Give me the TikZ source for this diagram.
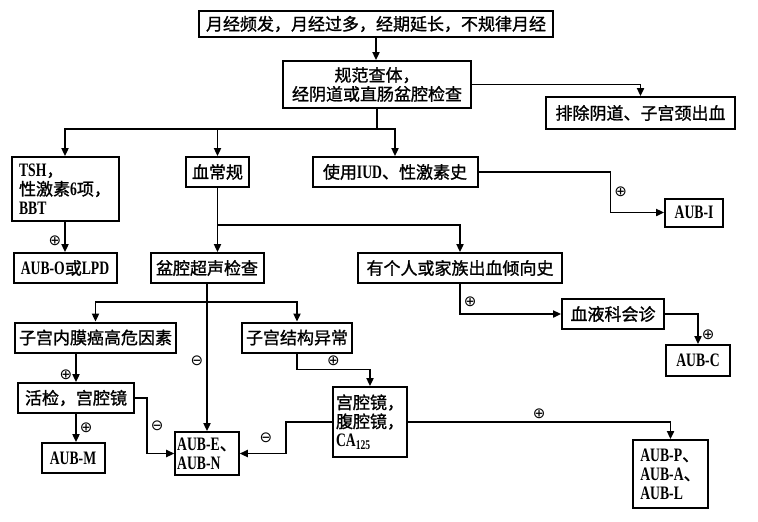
\documentclass[tikz,border=0pt]{standalone}
\usepackage{fontspec}
\setmainfont{Liberation Serif}[FakeStretch=0.72]
\newfontfamily\cjk{Noto Sans CJK SC}[FakeBold=1.2]
\newfontfamily\signfont{DejaVu Sans}
\newcommand\lat[1]{{\normalfont\bfseries\fontsize{9.5}{9.5}\selectfont #1}}
\usetikzlibrary{arrows.meta,positioning,calc}

\begin{document}
\begin{tikzpicture}[
    x=0.5pt, y=-0.5pt,
    box/.style={draw,line width=1pt,align=center,inner sep=1pt,font=\fontsize{8.5}{9.5}\selectfont\cjk},
    wh/.style 2 args={minimum width=#1*0.5pt,minimum height=#2*0.5pt},
    arrow/.style={-{Triangle[length=4pt,width=3.6pt]},line width=0.8pt},
    link/.style={line width=0.8pt},
    signlbl/.style={font=\signfont\fontsize{7.5}{7.5}\selectfont,inner sep=1.5pt}
  ]
  \useasboundingbox (0,0) rectangle (758,521);
  % boxes
  \node[box,wh={354}{26}] (top) at (376,24) {月经频发，月经过多，经期延长，不规律月经};
  \node[box,wh={188}{47}] (exam) at (377,84.5) {规范查体，\\经阴道或直肠盆腔检查};
  \node[box,wh={189}{32}] (excl) at (640.5,113) {排除阴道、子宫颈出血};
  \node[box,wh={107}{64},align=left] (tsh) at (65,189) {\lat{TSH}，\\性激素\lat{6}项，\\\lat{BBT}};
  \node[box,wh={63}{30}] (blood) at (217.5,172) {血常规};
  \node[box,wh={165}{30}] (iud) at (395,172) {使用\lat{IUD}、性激素史};
  \node[box,wh={58}{28}] (aubi) at (694,212.5) {\lat{AUB-I}};
  \node[box,wh={103}{30}] (aubo) at (65,268) {\lat{AUB-O}或\lat{LPD}};
  \node[box,wh={113}{30}] (pelvic) at (207,268) {盆腔超声检查};
  \node[box,wh={204}{30}] (history) at (460,268) {有个人或家族出血倾向史};
  \node[box,wh={102}{30}] (hema) at (613,314) {血液科会诊};
  \node[box,wh={64}{31}] (aubc) at (698,360.5) {\lat{AUB-C}};
  \node[box,wh={161}{30}] (endo) at (95.5,337.5) {子宫内膜癌高危因素};
  \node[box,wh={110}{30}] (struct) at (297,337.5) {子宫结构异常};
  \node[box,wh={116}{30}] (biopsy) at (76,398) {活检，宫腔镜};
  \node[box,wh={63}{30}] (aubm) at (73,458) {\lat{AUB-M}};
  \node[box,wh={63}{43},align=left] (aube) at (207,453.5) {\lat{AUB-E}、\\\lat{AUB-N}};
  \node[box,wh={74}{70},align=left] (lapa) at (370,422) {宫腔镜，\\腹腔镜，\\\lat{CA\textsubscript{125}}};
  \node[box,wh={75}{68},align=left] (aubp) at (670.5,474) {\lat{AUB-P}、\\\lat{AUB-A}、\\\lat{AUB-L}};
  % connectors
  \draw[arrow] (top.south) -- (top.south |- exam.north);
  \draw[arrow] (exam.east) -| (excl.north);
  \coordinate (split1) at ($(exam.south)+(0,20)$);
  \draw[link] (exam.south) -- (split1);
  \draw[arrow] (split1) -| (tsh.north);
  \draw[arrow] (split1) -| (blood.north);
  \draw[arrow] (split1) -| (iud.north);
  \draw[arrow] (iud.east) -- ++(132,0) |- node[signlbl,pos=0.25,right] (p1) {⊕} (aubi.west);
  \draw[arrow] (tsh) -- node[signlbl,pos=0.62,left] (p2) {⊕} (aubo);
  \coordinate (split2) at ($(blood.south)+(0,37)$);
  \draw[link] (blood.south) -- (split2);
  \draw[arrow] (split2) -- (split2 |- pelvic.north);
  \draw[arrow] (split2) -| (history.north);
  \draw[arrow] (history.south) |- node[signlbl,pos=0.3,right] (p3) {⊕} (hema.west);
  \draw[arrow] (hema.east) -| node[signlbl,pos=0.85,right] (p4) {⊕} (aubc.north);
  \draw[arrow] (pelvic) -- node[signlbl,pos=0.52,left] (m1) {⊖} (aube);
  \coordinate (split3) at ($(pelvic.south)+(0,18)$);
  \draw[arrow] (split3) -| (endo.north);
  \draw[arrow] (split3) -| (struct.north);
  \draw[arrow] (endo.south -| biopsy) -- node[signlbl,pos=0.75,left] (p5) {⊕} (biopsy.north);
  \draw[arrow] (biopsy.south) -- node[signlbl,pos=0.5,right] (p6) {⊕} (biopsy.south |- aubm.north);
  \draw[arrow] (biopsy.east) -- ++(12,0) |- node[signlbl,pos=0.25,right] (m2) {⊖} (aube.west);
  \draw[arrow] (struct.south) -- ++(0,16) -| node[signlbl,pos=0.25,above] (p7) {⊕} (lapa.north);
  \draw[arrow] (lapa.west) -- ++(-46,0) |- node[signlbl,pos=0.25,left=5pt] (m3) {⊖} (aube.east);
  \draw[arrow] (lapa.east) -| node[signlbl,pos=0.25,above] (p8) {⊕} (aubp.north);
\end{tikzpicture}
\end{document}
